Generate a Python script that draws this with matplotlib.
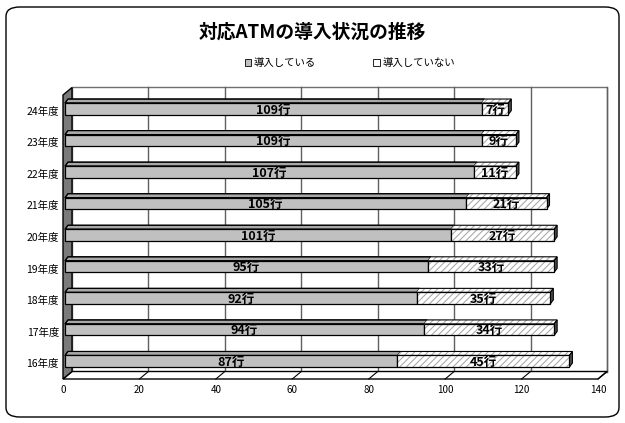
import matplotlib
matplotlib.use("Agg")
import matplotlib.pyplot as plt
from matplotlib.patches import Polygon, Rectangle, FancyBboxPatch, Patch

plt.rcParams['font.family'] = ['Noto Sans CJK JP', 'DejaVu Sans']
plt.rcParams['hatch.linewidth'] = 0.8

# data
years = ['16年度', '17年度', '18年度', '19年度', '20年度', '21年度', '22年度', '23年度', '24年度']
introduced = [87, 94, 92, 95, 101, 105, 107, 109, 109]
not_introduced = [45, 34, 35, 33, 27, 21, 11, 9, 7]
xticks = [0, 20, 40, 60, 80, 100, 120, 140]
unit = '行'

W, H = 625, 423
fig = plt.figure(figsize=(W / 100, H / 100), dpi=100)

# rounded outer frame
frame = FancyBboxPatch((6 / W, 6 / H), 613 / W, 410 / H,
                       boxstyle="round,pad=0,rounding_size=0.022",
                       transform=fig.transFigure, fill=False, ec='black', lw=1.0, zorder=5)
fig.patches.append(frame)

fig.text(0.5, 1 - 32 / H, '対応ATMの導入状況の推移', ha='center', va='center',
         fontsize=13.5, fontweight='bold')

# front plane of the plot box
x0, x1, ytop, ybot = 63, 598, 95, 379
ax = fig.add_axes([x0 / W, (H - ybot) / H, (x1 - x0) / W, (ybot - ytop) / H])
ax.set_xlim(0, 140)
ax.set_ylim(-0.5, len(years) - 0.5)
for s in ax.spines.values():
    s.set_visible(False)
ax.patch.set_alpha(0)

kx = 140 / (x1 - x0)            # data units per pixel
ky = len(years) / (ybot - ytop)

ddx, ddy = 9 * kx, 7.5 * ky     # depth of the box
bx, by = 2 * kx, 2 * ky         # bar plane offset
tdx, tdy = 3 * kx, 4 * ky       # bar thickness
bh = 11.5 * ky

yb, yt = -0.5, len(years) - 0.5

# back wall, floor, left wall
ax.add_patch(Rectangle((ddx, yb + ddy), 140, yt - yb, fc='white', ec='#707070', lw=1, zorder=0, clip_on=False))
for v in xticks[1:]:
    ax.plot([v + ddx, v + ddx], [yb + ddy, yt + ddy], color='#606060', lw=1, zorder=1, clip_on=False)
ax.add_patch(Polygon([(0, yb), (140, yb), (140 + ddx, yb + ddy), (ddx, yb + ddy)],
                     closed=True, fc='white', ec='black', lw=1, zorder=1, clip_on=False))
for v in xticks[1:]:
    ax.plot([v, v + ddx], [yb, yb + ddy], color='black', lw=0.8, zorder=1, clip_on=False)
ax.add_patch(Polygon([(0, yb), (0, yt), (ddx, yt + ddy), (ddx, yb + ddy)],
                     closed=True, fc='#7a7a7a', ec='black', lw=1, zorder=2, clip_on=False))

gray = '#c0c0c0'
hatch_col = '#ababab'
for i, (a, b) in enumerate(zip(introduced, not_introduced)):
    yc = i + by
    lo, hi = yc - bh / 2, yc + bh / 2
    s0, s1, s2 = bx, bx + a, bx + a + b
    # front faces
    ax.barh(yc, a, left=s0, height=bh, color=gray, edgecolor='black', lw=0.9, zorder=4)
    ax.barh(yc, b, left=s1, height=bh, color='white', edgecolor=hatch_col, hatch='/////', lw=0, zorder=4)
    ax.barh(yc, b, left=s1, height=bh, fill=False, edgecolor='black', lw=0.9, zorder=4)
    # top faces
    ax.add_patch(Polygon([(s0, hi), (s1, hi), (s1 + tdx, hi + tdy), (s0 + tdx, hi + tdy)],
                         closed=True, fc='#a8a8a8', ec='black', lw=0.8, zorder=3))
    ax.add_patch(Polygon([(s1, hi), (s2, hi), (s2 + tdx, hi + tdy), (s1 + tdx, hi + tdy)],
                         closed=True, fc='white', ec=hatch_col, hatch='/////', lw=0, zorder=3))
    ax.add_patch(Polygon([(s0, hi), (s2, hi), (s2 + tdx, hi + tdy), (s0 + tdx, hi + tdy)],
                         closed=True, fill=False, ec='black', lw=0.8, zorder=3))
    # end face
    ax.add_patch(Polygon([(s2, lo), (s2, hi), (s2 + tdx, hi + tdy), (s2 + tdx, lo + tdy)],
                         closed=True, fc='#505050', ec='black', lw=0.8, zorder=3))
    ax.text((s0 + s1) / 2, yc - 0.04, f'{a}{unit}', ha='center', va='center',
            fontsize=9, fontweight='bold', zorder=5)
    ax.text((s1 + s2) / 2, yc - 0.04, f'{b}{unit}', ha='center', va='center',
            fontsize=9, fontweight='bold', zorder=5)

ax.set_xticks(xticks)
ax.set_xticklabels([str(v) for v in xticks], fontsize=7)
ax.set_yticks(range(len(years)))
ax.set_yticklabels(years, fontsize=7.5)
ax.tick_params(length=0, pad=4)
ax.tick_params(axis='y', pad=3)

handles = [Patch(fc=gray, ec='black', lw=0.6),
           Patch(fc='white', ec='black', lw=0.6)]
fig.legend(handles, ['導入している', '導入していない'], loc='center',
           bbox_to_anchor=(350 / W, 1 - 63 / H), ncol=2, frameon=False,
           fontsize=7.5, handlelength=0.6, handleheight=0.6, handletextpad=0.3,
           columnspacing=5.5)

fig.savefig('out.png', dpi=100)
